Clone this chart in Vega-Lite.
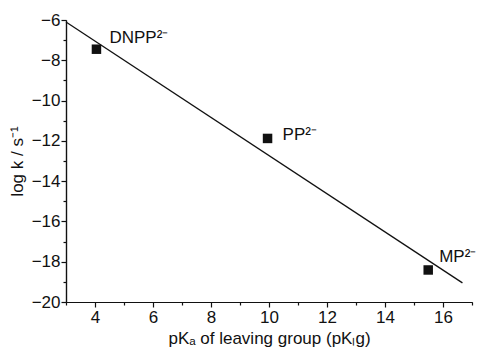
{
  "$schema": "https://vega.github.io/schema/vega-lite/v6.json",
  "width": 406,
  "height": 282,
  "autosize": "none",
  "padding": {"left": 66, "top": 20, "right": 6, "bottom": 48},
  "background": "white",
  "config": {
    "font": "Liberation Sans",
    "view": {"stroke": null},
    "axis": {
      "grid": false,
      "domainColor": "#111",
      "domainWidth": 1.2,
      "tickColor": "#111",
      "tickWidth": 1.2,
      "labelColor": "#111",
      "titleColor": "#111",
      "labelFontSize": 17,
      "titleFontSize": 17,
      "titleFontWeight": "normal",
      "labelFont": "Liberation Sans",
      "titleFont": "Liberation Sans",
      "labelOverlap": false,
      "labelBound": false,
      "labelFlush": false
    }
  },
  "datasets": {
    "points": [
      {"pKlg": 4.05, "logk": -7.45, "label": "DNPP²⁻"},
      {"pKlg": 9.95, "logk": -11.88, "label": "PP²⁻"},
      {"pKlg": 15.49, "logk": -18.41, "label": "MP²⁻"}
    ],
    "fit": [
      {"pKlg": 3.0, "logk": -6.1},
      {"pKlg": 16.67, "logk": -19.05}
    ]
  },
  "resolve": {"axis": {"x": "independent", "y": "independent"}},
  "layer": [
    {
      "data": {"name": "fit"},
      "mark": {"type": "line", "color": "#111", "strokeWidth": 1.3},
      "encoding": {
        "x": {
          "field": "pKlg", "type": "quantitative",
          "scale": {"domain": [3, 17], "nice": false, "zero": false},
          "axis": {
            "orient": "bottom",
            "title": null,
            "values": [3, 5, 7, 9, 11, 13, 15, 17],
            "labels": false,
            "tickSize": 3
          }
        },
        "y": {
          "field": "logk", "type": "quantitative",
          "scale": {"domain": [-20, -6], "nice": false, "zero": false},
          "axis": {
            "orient": "left",
            "title": null,
            "values": [-19, -17, -15, -13, -11, -9, -7],
            "labels": false,
            "tickSize": 3
          }
        }
      }
    },
    {
      "data": {"name": "points"},
      "mark": {"type": "square", "size": 90, "color": "#111", "opacity": 1, "filled": true},
      "encoding": {
        "x": {
          "field": "pKlg", "type": "quantitative",
          "scale": {"domain": [3, 17], "nice": false, "zero": false},
          "axis": {
            "orient": "bottom",
            "title": "pKₐ of leaving group (pKₗg)",
            "values": [4, 6, 8, 10, 12, 14, 16],
            "tickSize": 5,
            "labelPadding": 2,
            "titlePadding": 5
          }
        },
        "y": {
          "field": "logk", "type": "quantitative",
          "scale": {"domain": [-20, -6], "nice": false, "zero": false},
          "axis": {
            "orient": "left",
            "title": "log k / s⁻¹",
            "values": [-20, -18, -16, -14, -12, -10, -8, -6],
            "tickSize": 5,
            "labelPadding": 1,
            "titlePadding": 5
          }
        }
      }
    },
    {
      "data": {"name": "points"},
      "transform": [{"filter": "datum.label == 'DNPP²⁻'"}],
      "mark": {"type": "text", "align": "left", "baseline": "alphabetic", "dx": 13, "dy": -6, "fontSize": 17, "color": "#111"},
      "encoding": {
        "x": {"field": "pKlg", "type": "quantitative", "axis": null},
        "y": {"field": "logk", "type": "quantitative", "axis": null},
        "text": {"field": "label"}
      }
    },
    {
      "data": {"name": "points"},
      "transform": [{"filter": "datum.label == 'PP²⁻'"}],
      "mark": {"type": "text", "align": "left", "baseline": "alphabetic", "dx": 15, "dy": 2, "fontSize": 17, "color": "#111"},
      "encoding": {
        "x": {"field": "pKlg", "type": "quantitative", "axis": null},
        "y": {"field": "logk", "type": "quantitative", "axis": null},
        "text": {"field": "label"}
      }
    },
    {
      "data": {"name": "points"},
      "transform": [{"filter": "datum.label == 'MP²⁻'"}],
      "mark": {"type": "text", "align": "left", "baseline": "alphabetic", "dx": 11, "dy": -8, "fontSize": 17, "color": "#111"},
      "encoding": {
        "x": {"field": "pKlg", "type": "quantitative", "axis": null},
        "y": {"field": "logk", "type": "quantitative", "axis": null},
        "text": {"field": "label"}
      }
    }
  ]
}
